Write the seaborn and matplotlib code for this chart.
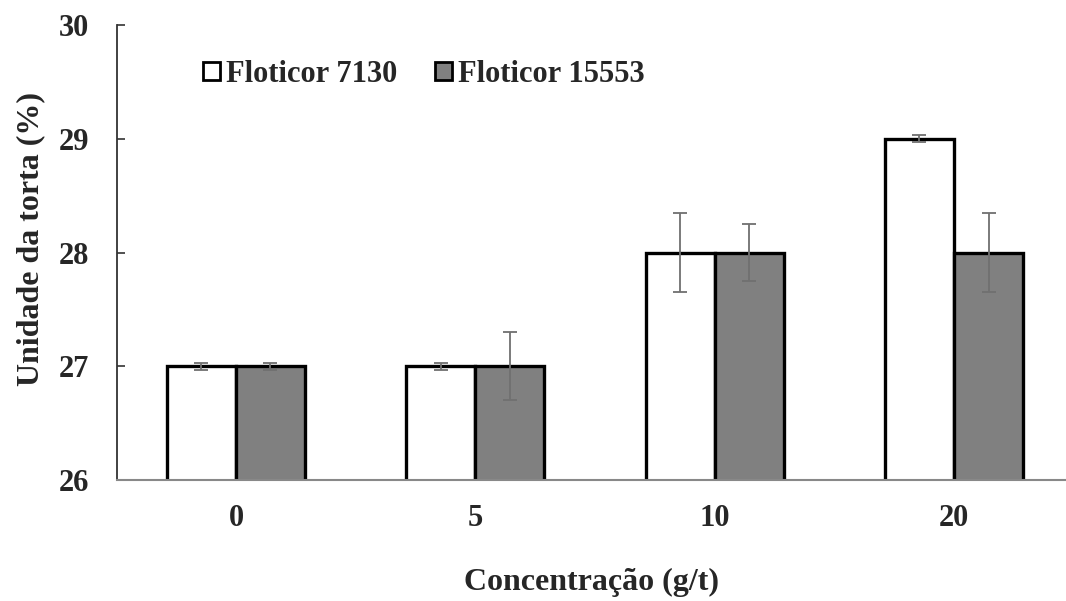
import matplotlib
matplotlib.use("Agg")
import matplotlib.pyplot as plt
import seaborn as sns
import pandas as pd
import numpy as np
from matplotlib.patches import Patch

concentracao = ["0", "5", "10", "20"]
series_names = ["Floticor 7130", "Floticor 15553"]
floticor_7130 = [27.0, 27.0, 28.0, 29.0]
floticor_15553 = [27.0, 27.0, 28.0, 28.0]
err_7130 = [0.03, 0.03, 0.35, 0.03]
err_15553 = [0.03, 0.30, 0.25, 0.35]

df = pd.DataFrame({
    "conc": concentracao * 2,
    "serie": [series_names[0]] * 4 + [series_names[1]] * 4,
    "valor": floticor_7130 + floticor_15553,
    "err": err_7130 + err_15553,
})

sns.set_style("white")
plt.rcParams["font.family"] = ["Liberation Serif", "DejaVu Serif"]
plt.rcParams["font.weight"] = "bold"

fig = plt.figure(figsize=(10.66, 6.01), dpi=100)
ax = fig.add_axes([117/1066, 1 - 480/601, 1 - 117/1066, (480 - 25)/601])

palette = {series_names[0]: "#ffffff", series_names[1]: "#808080"}
sns.barplot(data=df, x="conc", y="valor", hue="serie", order=concentracao,
            hue_order=series_names, palette=palette, width=0.577, gap=0,
            errorbar=None, edgecolor="black", linewidth=2.4, saturation=1,
            ax=ax, legend=False)

# error bars at bar centres
bar_containers = list(ax.containers)
for cont, errs in zip(bar_containers, [err_7130, err_15553]):
    for bar, e in zip(cont, errs):
        cx = bar.get_x() + bar.get_width() / 2
        ax.errorbar(cx, bar.get_y() + bar.get_height(), yerr=e, color="#707070",
                    elinewidth=1.3, capsize=5, capthick=1.3, zorder=5)

ax.set_ylim(26, 30)
ax.set_xlim(-0.497, 3.468)
ax.set_yticks([26, 27, 28, 29, 30])
ax.set_xticks(range(4))
ax.set_xticklabels(concentracao)
ax.set_xticks([0.5, 1.5, 2.5], minor=True)
ax.tick_params(axis="x", which="major", length=0, pad=17.5, labelsize=22)
ax.tick_params(axis="x", which="minor", direction="in", length=5, width=1.2, color="#333333")
ax.tick_params(axis="y", direction="in", length=6, width=1.2, labelsize=22, left=True, pad=20, color="#333333")
for lab in ax.get_xticklabels() + ax.get_yticklabels():
    lab.set_fontweight("bold")

ax.spines["top"].set_visible(False)
ax.spines["right"].set_visible(False)
ax.spines["left"].set_color("#333333")
ax.spines["left"].set_linewidth(1.3)
ax.spines["bottom"].set_color("#888888")
ax.spines["bottom"].set_linewidth(1.5)

ax.set_xlabel("Concentração (g/t)", fontsize=23, fontweight="bold", labelpad=25)
ax.set_ylabel("Unidade da torta (%)", fontsize=23, fontweight="bold", labelpad=10)
ax.yaxis.label.set_y(0.53)

handles = [Patch(facecolor=palette[s], edgecolor="black", linewidth=2) for s in series_names]
leg = ax.legend(handles, series_names, loc="center left", bbox_to_anchor=(0.0906, 0.892),
                ncol=2, frameon=False, handlelength=0.55, handleheight=0.55,
                handletextpad=0.2, columnspacing=1.24, borderpad=0, borderaxespad=0,
                prop={"family": "Liberation Serif", "weight": "bold", "size": 22})

fig.savefig("out.png", dpi=100)
